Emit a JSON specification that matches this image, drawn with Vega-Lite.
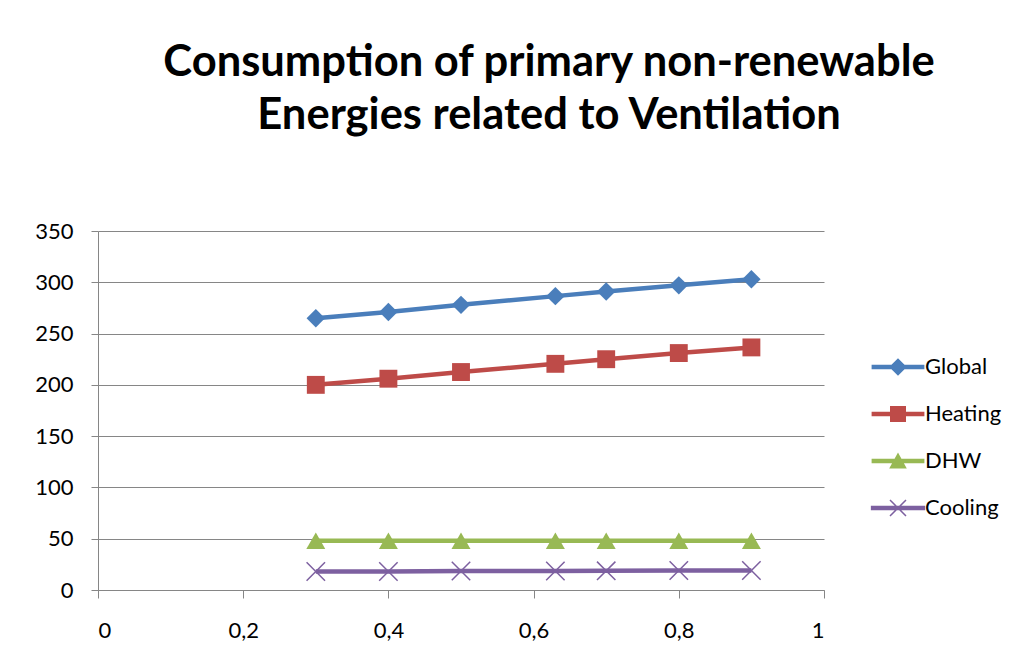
{
  "$schema": "https://vega.github.io/schema/vega-lite/v6.json",
  "autosize": "none",
  "width": 726,
  "height": 359,
  "padding": {"left": 98, "top": 231, "right": 200, "bottom": 81},
  "background": "white",
  "title": {
    "text": ["Consumption of primary non-renewable", "Energies related to Ventilation"],
    "font": "Lato",
    "fontSize": 43.5,
    "fontWeight": "bold",
    "color": "black",
    "anchor": "middle",
    "dx": 88,
    "offset": 82,
    "lineHeight": 53
  },
  "config": {
    "view": {"stroke": null},
    "axis": {
      "labelFont": "Lato",
      "labelFontSize": 22,
      "labelColor": "black",
      "domainColor": "#868686",
      "tickColor": "#868686",
      "gridColor": "#868686",
      "title": null
    }
  },
  "data": {
    "values": [
      {"x": 0.3, "series": "Global", "value": 265},
      {"x": 0.4, "series": "Global", "value": 271},
      {"x": 0.5, "series": "Global", "value": 278},
      {"x": 0.63, "series": "Global", "value": 286.5},
      {"x": 0.7, "series": "Global", "value": 291},
      {"x": 0.8, "series": "Global", "value": 297},
      {"x": 0.9, "series": "Global", "value": 303},
      {"x": 0.3, "series": "Heating", "value": 200},
      {"x": 0.4, "series": "Heating", "value": 206},
      {"x": 0.5, "series": "Heating", "value": 212.5},
      {"x": 0.63, "series": "Heating", "value": 220.5},
      {"x": 0.7, "series": "Heating", "value": 225},
      {"x": 0.8, "series": "Heating", "value": 231},
      {"x": 0.9, "series": "Heating", "value": 236.5},
      {"x": 0.3, "series": "DHW", "value": 48},
      {"x": 0.4, "series": "DHW", "value": 48},
      {"x": 0.5, "series": "DHW", "value": 48},
      {"x": 0.63, "series": "DHW", "value": 48},
      {"x": 0.7, "series": "DHW", "value": 48},
      {"x": 0.8, "series": "DHW", "value": 48},
      {"x": 0.9, "series": "DHW", "value": 48},
      {"x": 0.3, "series": "Cooling", "value": 18},
      {"x": 0.4, "series": "Cooling", "value": 18},
      {"x": 0.5, "series": "Cooling", "value": 18.5},
      {"x": 0.63, "series": "Cooling", "value": 18.5},
      {"x": 0.7, "series": "Cooling", "value": 18.7},
      {"x": 0.8, "series": "Cooling", "value": 19},
      {"x": 0.9, "series": "Cooling", "value": 19}
    ]
  },
  "encoding": {
    "x": {
      "field": "x",
      "type": "quantitative",
      "scale": {"domain": [0, 1], "nice": false},
      "axis": {
        "values": [0, 0.2, 0.4, 0.6, 0.8, 1],
        "labelExpr": "replace(toString(datum.value), '.', ',')",
        "grid": false,
        "tickSize": 8,
        "labelPadding": 22
      }
    },
    "y": {
      "field": "value",
      "type": "quantitative",
      "scale": {"domain": [0, 350], "nice": false},
      "axis": {
        "values": [0, 50, 100, 150, 200, 250, 300, 350],
        "grid": true,
        "tickSize": 7,
        "labelPadding": 18
      }
    },
    "color": {
      "field": "series",
      "type": "nominal",
      "scale": {
        "domain": ["Global", "Heating", "DHW", "Cooling"],
        "range": ["#4A7EBB", "#BE4B48", "#98B954", "#7D60A0"]
      },
      "legend": {
        "title": null,
        "orient": "none",
        "legendX": 789,
        "legendY": 125,
        "padding": 0,
        "symbolSize": 256,
        "labelOffset": 16,
        "labelFont": "Lato",
        "labelFontSize": 22,
        "labelColor": "black",
        "rowPadding": 25,
        "encode": {
          "symbols": {
            "update": {
              "shape": {"signal": "datum.value === 'Global' ? 'M-3.3,-0.28L3.3,-0.28L3.3,0.28L-3.3,0.28Z M0,-1.1L1.1,0L0,1.1L-1.1,0Z' : datum.value === 'Heating' ? 'M-3.3,-0.28L3.3,-0.28L3.3,0.28L-3.3,0.28Z M-1,-1L1,-1L1,1L-1,1Z' : datum.value === 'DHW' ? 'M-3.3,-0.28L3.3,-0.28L3.3,0.28L-3.3,0.28Z M0,-1.05L1.1,0.95L-1.1,0.95Z' : 'M-3.3,-0.2L3.3,-0.2L3.3,0.2L-3.3,0.2Z M-1,-1L1,1M1,-1L-1,1'"},
              "fill": {"scale": "color", "field": "value"},
              "stroke": {"scale": "color", "field": "value"},
              "strokeWidth": {"signal": "datum.value === 'Cooling' ? 1.5 : 0"},
              "size": {"value": 256},
              "opacity": {"value": 1},
              "fillOpacity": {"value": 1},
              "strokeOpacity": {"value": 1}
            }
          }
        }
      }
    }
  },
  "layer": [
    {
      "mark": {"type": "line", "strokeWidth": 4.5},
      "encoding": {}
    },
    {
      "transform": [{"filter": "datum.series === 'Global'"}],
      "mark": {"type": "point", "filled": true, "opacity": 1, "size": 340, "shape": "diamond"},
      "encoding": {}
    },
    {
      "transform": [{"filter": "datum.series === 'Heating'"}],
      "mark": {"type": "point", "filled": true, "opacity": 1, "size": 320, "shape": "square"},
      "encoding": {}
    },
    {
      "transform": [{"filter": "datum.series === 'DHW'"}],
      "mark": {"type": "point", "filled": true, "opacity": 1, "size": 360, "shape": "triangle-up"},
      "encoding": {}
    },
    {
      "transform": [{"filter": "datum.series === 'Cooling'"}],
      "mark": {"type": "point", "filled": false, "opacity": 1, "size": 340, "strokeWidth": 1.5, "shape": "M-1,-1L1,1M1,-1L-1,1"},
      "encoding": {}
    }
  ]
}
